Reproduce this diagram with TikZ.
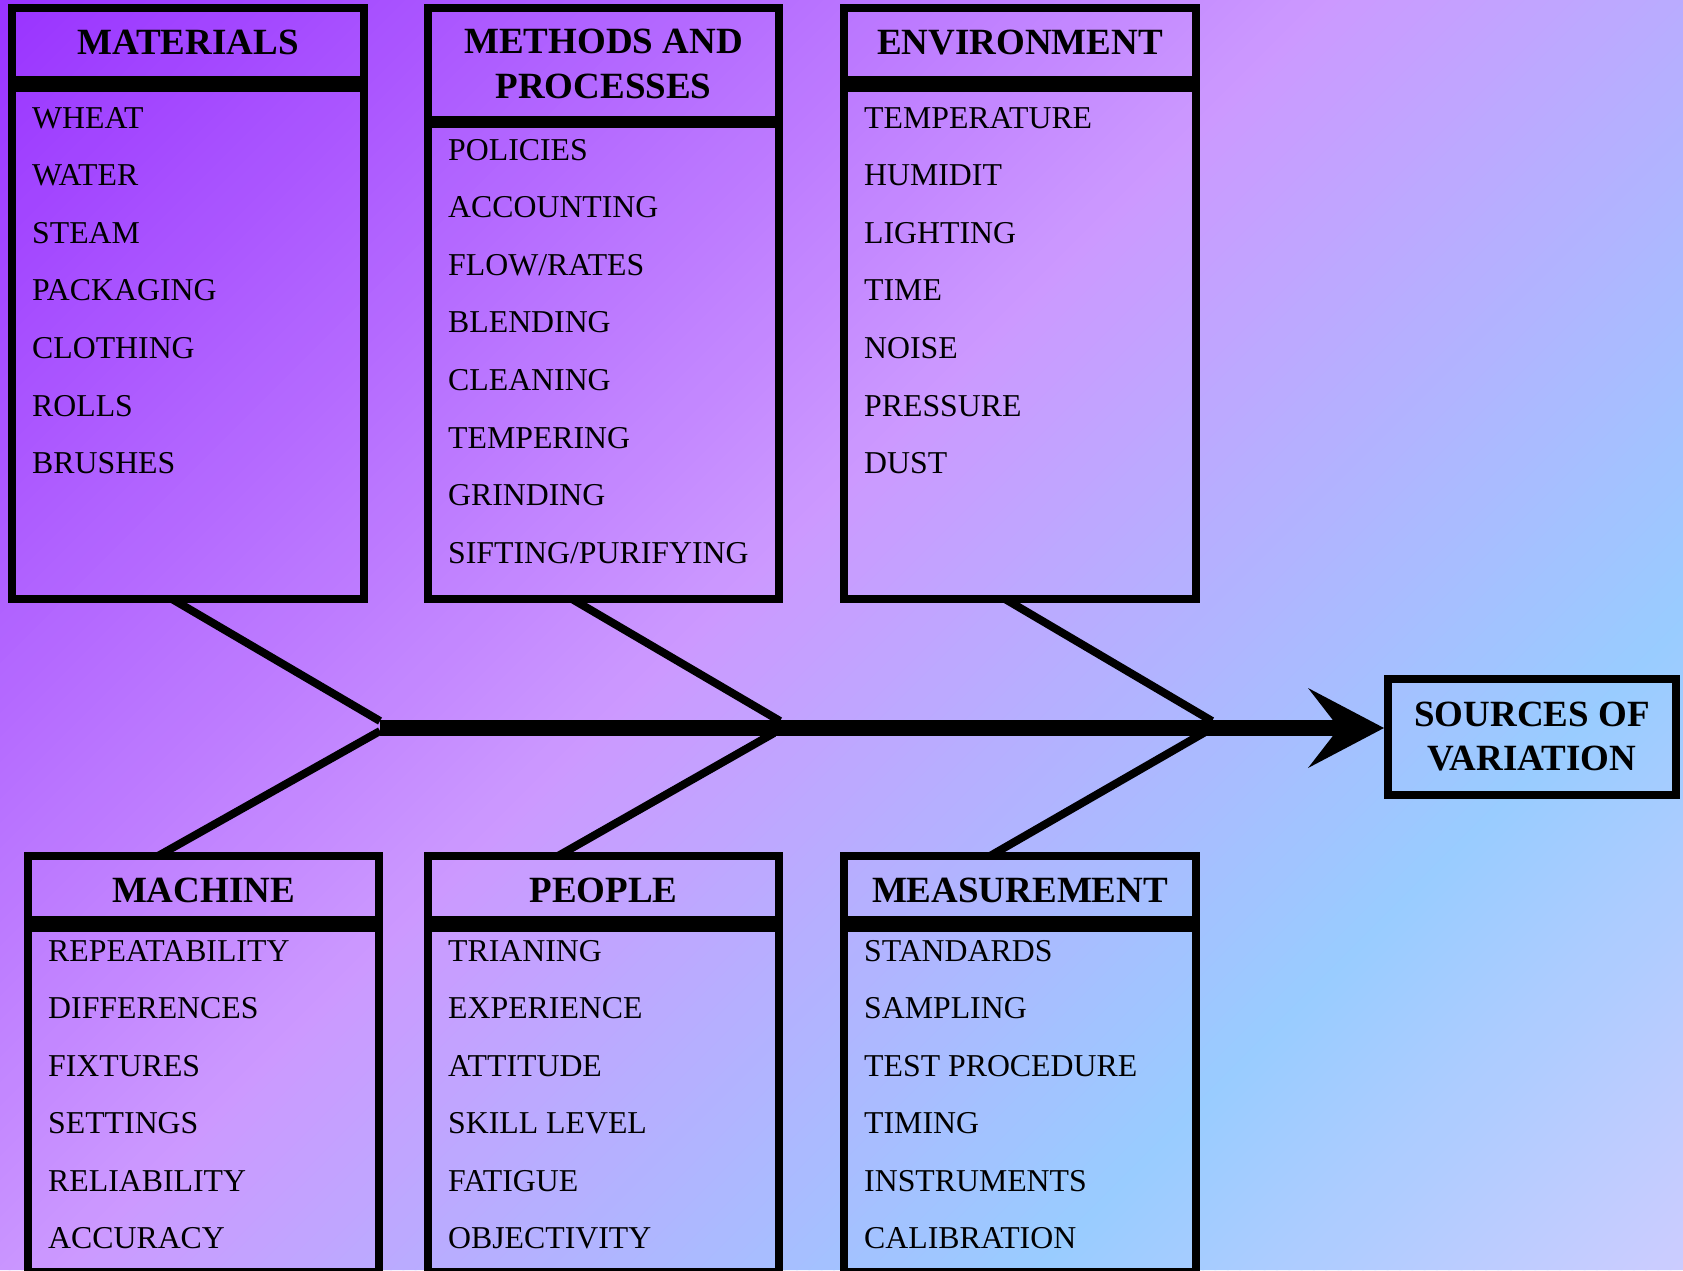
\documentclass[tikz,border=0pt]{standalone}
\usepackage{fontspec}
\setmainfont{Liberation Serif}
\definecolor{gA}{HTML}{9933FF}
\definecolor{gB}{HTML}{CC99FF}
\definecolor{gC}{HTML}{99CCFF}
\definecolor{gD}{HTML}{CCCCFF}
\newcommand\hdrfont{\fontsize{37}{44}\selectfont\bfseries}
\newcommand\hdrfonttwo{\fontsize{37}{45}\selectfont\bfseries}
\newcommand\itemfont{\fontsize{31.8}{31.8}\selectfont}
\tikzset{
  box/.style={draw=black, line width=8pt, inner sep=0pt, outer sep=0pt, anchor=north west},
  tophdr/.style={box, font=\hdrfont, text height=24pt, text depth=4pt},
  bothdr/.style={box, font=\hdrfont, text height=28pt, text depth=0pt},
  branch/.style={draw=black, line width=8pt},
  spine/.style={draw=black, line width=16pt},
  item/.style={font=\itemfont, inner sep=0pt, anchor=base west, text=black},
}
\begin{document}
\begin{tikzpicture}[x=1pt, y=-1pt]
\useasboundingbox (0,0) rectangle (1683,1270);
% background gradient
\begin{scope}
\clip (0,0) rectangle (1683,1270);
\foreach \i in {0,...,239}{
  \pgfmathsetmacro{\tm}{(\i+0.5)/240}
  \pgfmathsetmacro{\sa}{\i*12.30417-1}
  \pgfmathsetmacro{\sb}{(\i+1)*12.30417+1}
  \ifdim\tm pt<0.45pt
    \pgfmathsetmacro{\pc}{100-\tm/0.45*100}
    \colorlet{bgcur}{gA!\pc!gB}
  \else
    \ifdim\tm pt<0.78pt
      \pgfmathsetmacro{\pc}{100-(\tm-0.45)/0.33*100}
      \colorlet{bgcur}{gB!\pc!gC}
    \else
      \pgfmathsetmacro{\pc}{100-(\tm-0.78)/0.22*100}
      \colorlet{bgcur}{gC!\pc!gD}
    \fi
  \fi
  \fill[bgcur] (\sa,0) -- (\sb,0) -- (\sb-1270,1270) -- (\sa-1270,1270) -- cycle;
}
\end{scope}

% boxes
\node[tophdr, minimum width=352pt, minimum height=72pt] (mathdr) at (12,8) {MATERIALS};
\node[box, minimum width=352pt, minimum height=511pt] (matlist) at (12,88) {};
\node[box, minimum width=351pt, minimum height=112pt, align=center, font=\hdrfonttwo] (methdr) at (428,8) {METHODS AND\\PROCESSES};
\node[box, minimum width=351pt, minimum height=475pt] (metlist) at (428,124) {};
\node[tophdr, minimum width=352pt, minimum height=72pt] (envhdr) at (844,8) {ENVIRONMENT};
\node[box, minimum width=352pt, minimum height=511pt] (envlist) at (844,88) {};

\node[bothdr, minimum width=351pt, minimum height=64pt] (machdr) at (28,856) {MACHINE};
\node[box, minimum width=351pt, minimum height=344pt] (maclist) at (28,928) {};
\node[bothdr, minimum width=351pt, minimum height=64pt] (pephdr) at (428,856) {PEOPLE};
\node[box, minimum width=351pt, minimum height=344pt] (peplist) at (428,928) {};
\node[bothdr, minimum width=352pt, minimum height=64pt] (meshdr) at (844,856) {MEASUREMENT};
\node[box, minimum width=352pt, minimum height=344pt] (meslist) at (844,928) {};

\node[box, anchor=center, outer sep=4pt, minimum width=288pt, minimum height=116pt, align=center, font=\hdrfont] (src) at (1532,737) {SOURCES OF\\VARIATION};

% junctions
\coordinate (spinestart) at (380,728);
\coordinate (j1u) at (380,721);
\coordinate (j1l) at (380,731);
\coordinate (j2u) at (780,721);
\coordinate (j2l) at (774,733);
\coordinate (j3u) at (1212,721);
\coordinate (j3l) at (1207,731);
\coordinate (tip) at (src.west |- spinestart);

% branches
\draw[branch] ([xshift=160pt]matlist.south west) -- (j1u);
\draw[branch] ([xshift=144pt]metlist.south west) -- (j2u);
\draw[branch] ([xshift=161pt]envlist.south west) -- (j3u);
\draw[branch] (j1l) -- ([xshift=130pt]machdr.north west);
\draw[branch] (j2l) -- ([xshift=130pt]pephdr.north west);
\draw[branch] (j3l) -- ([xshift=146pt]meshdr.north west);

% spine and arrowhead
\draw[spine] (spinestart) -- ([xshift=-44pt]tip);
\fill[black] (tip) -- ++(-76,-40) -- ++(31,40) -- ++(-31,40) -- cycle;

% list items
\foreach \t [count=\k] in {WHEAT,WATER,STEAM,PACKAGING,CLOTHING,ROLLS,BRUSHES}
  \node[item] (mat-\k) at (32,128+57.6*\k-57.6) {\t};
\foreach \t [count=\k] in {POLICIES,ACCOUNTING,FLOW/RATES,BLENDING,CLEANING,TEMPERING,GRINDING,SIFTING/PURIFYING}
  \node[item] (met-\k) at (448,160+57.6*\k-57.6) {\t};
\foreach \t [count=\k] in {TEMPERATURE,HUMIDIT,LIGHTING,TIME,NOISE,PRESSURE,DUST}
  \node[item] (env-\k) at (864,128+57.6*\k-57.6) {\t};
\foreach \t [count=\k] in {REPEATABILITY,DIFFERENCES,FIXTURES,SETTINGS,RELIABILITY,ACCURACY}
  \node[item] (mac-\k) at (48,961+57.5*\k-57.5) {\t};
\foreach \t [count=\k] in {TRIANING,EXPERIENCE,ATTITUDE,SKILL LEVEL,FATIGUE,OBJECTIVITY}
  \node[item] (pep-\k) at (448,961+57.5*\k-57.5) {\t};
\foreach \t [count=\k] in {STANDARDS,SAMPLING,TEST PROCEDURE,TIMING,INSTRUMENTS,CALIBRATION}
  \node[item] (mes-\k) at (864,961+57.5*\k-57.5) {\t};
\end{tikzpicture}
\end{document}
